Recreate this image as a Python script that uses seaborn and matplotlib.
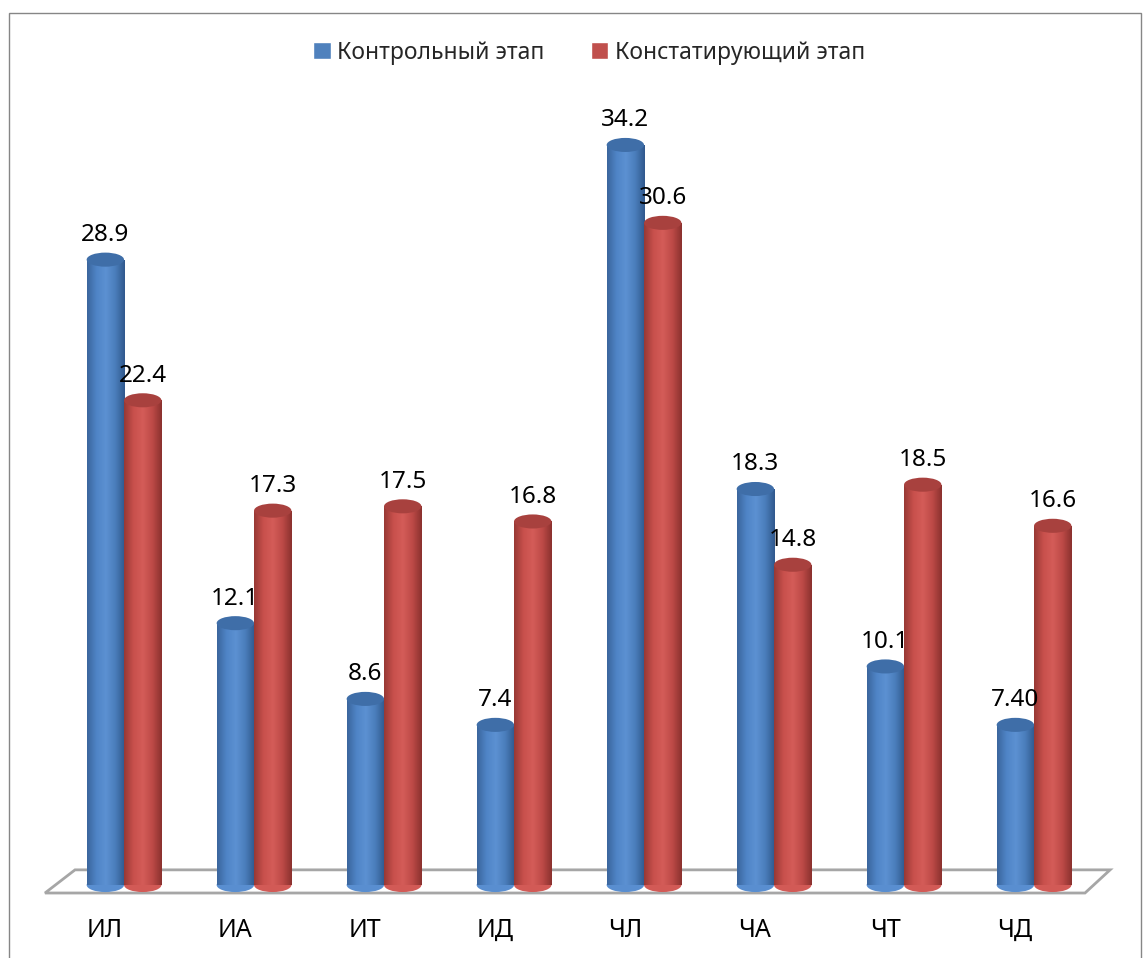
import pandas as pd
import seaborn as sns
import matplotlib.pyplot as plt
import numpy as np
from matplotlib.patches import Ellipse, Patch, Polygon, Rectangle
from matplotlib.colors import LinearSegmentedColormap
from matplotlib.transforms import ScaledTranslation

# --- Data ---
categories = ['ИЛ', 'ИА', 'ИТ', 'ИД', 'ЧЛ', 'ЧА', 'ЧТ', 'ЧД']
series_names = ['Контрольный этап', 'Констатирующий этап']
control_values = [28.9, 12.1, 8.6, 7.4, 34.2, 18.3, 10.1, 7.40]
stating_values = [22.4, 17.3, 17.5, 16.8, 30.6, 14.8, 18.5, 16.6]
control_labels = ['28.9', '12.1', '8.6', '7.4', '34.2', '18.3', '10.1', '7.40']
stating_labels = ['22.4', '17.3', '17.5', '16.8', '30.6', '14.8', '18.5', '16.6']

# --- Style ---
sns.set_style('white')
plt.rcParams['font.family'] = ['Noto Sans', 'DejaVu Sans']
base_colors = {'Контрольный этап': '#4f81bd', 'Констатирующий этап': '#c0504d'}
cap_colors = ['#3f6ea8', '#a8413e']
grad_cmaps = [
    LinearSegmentedColormap.from_list('blue_cyl', ['#3a659c', '#4f84c6', '#5c91d2', '#4a7dbb', '#30588c']),
    LinearSegmentedColormap.from_list('red_cyl', ['#973834', '#c8504c', '#d45c58', '#bd4a47', '#8a312e']),
]

df = pd.DataFrame({
    'category': categories * 2,
    'series': [series_names[0]] * len(categories) + [series_names[1]] * len(categories),
    'value': control_values + stating_values,
})

fig = plt.figure(figsize=(11.44, 9.58), dpi=100)
ax = fig.add_axes([0.0516, 0.0762, 0.9091, 0.9035])

sns.barplot(data=df, x='category', y='value', hue='series', palette=base_colors,
            width=0.575, gap=0, legend=False, ax=ax, linewidth=0)

ylim = (0, 40)
cap_h = 0.65
grad = np.linspace(0, 1, 256).reshape(1, -1)

# cylinder look: gradient body, rounded bottom, elliptical top
for s, (cont, labels) in enumerate(zip(ax.containers, [control_labels, stating_labels])):
    for bar, lab in zip(cont, labels):
        x, w, h = bar.get_x(), bar.get_width(), bar.get_height()
        cx = x + w / 2
        bottom = Ellipse((cx, 0), w, cap_h, facecolor=grad_cmaps[s](0.45), edgecolor='none',
                         zorder=2, clip_on=False)
        ax.add_patch(bottom)
        im = ax.imshow(grad, extent=[x, x + w, 0, h], aspect='auto', cmap=grad_cmaps[s],
                       zorder=2.5, interpolation='bilinear')
        im.set_clip_path(bar)
        top = Ellipse((cx, h), w, cap_h, facecolor=cap_colors[s], edgecolor='none', zorder=3)
        ax.add_patch(top)
        ax.annotate(lab, (cx, h + cap_h / 2), xytext=(0, 4), textcoords='offset points',
                    ha='center', va='bottom', fontsize=17.5, color='black', zorder=4)

# floor
floor = Polygon([[-0.377, 0.7], [7.585, 0.7], [7.392, -0.37], [-0.608, -0.37]], closed=True,
                facecolor='white', edgecolor='#a6a6a6', linewidth=2, zorder=1, clip_on=False)
ax.add_patch(floor)

ax.set_xlim(-0.5, 7.5)
ax.set_ylim(*ylim)
ax.set_yticks([])
ax.set_xlabel('')
ax.set_ylabel('')
ax.tick_params(axis='x', length=0, pad=24, labelsize=18, labelcolor='black')
for t in ax.get_xticklabels():
    t.set_transform(t.get_transform() + ScaledTranslation(-0.19, 0, fig.dpi_scale_trans))
sns.despine(ax=ax, left=True, bottom=True)

handles = [Patch(facecolor=base_colors[n], label=n) for n in series_names]
fig.legend(handles=handles, loc='center', bbox_to_anchor=(0.515, 0.945), ncol=2,
           frameon=False, fontsize=16.5, handlelength=0.75, handleheight=0.75,
           handletextpad=0.3, columnspacing=2.0)

fig.patches.append(Rectangle((0.008, -0.01), 0.989, 0.996, transform=fig.transFigure,
                             fill=False, edgecolor='#868686', linewidth=1))

fig.savefig('out.png', dpi=100)
